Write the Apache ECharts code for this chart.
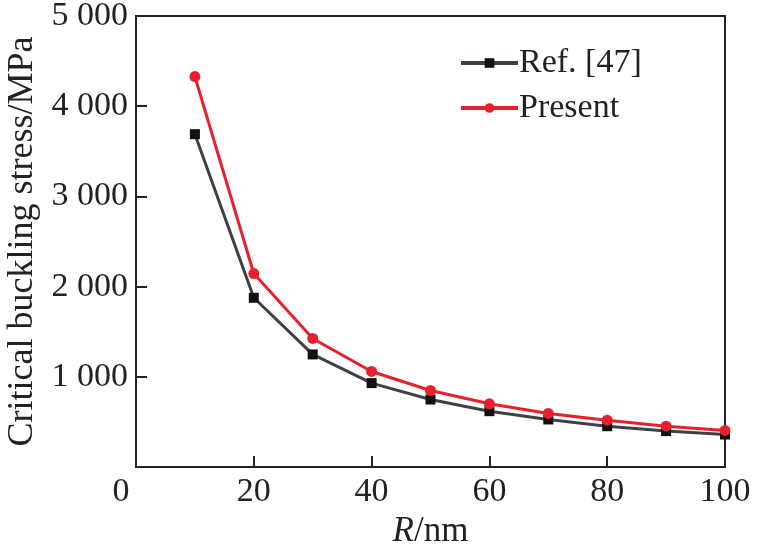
<!DOCTYPE html>
<html>
<head>
<meta charset="utf-8">
<script src="https://cdn.jsdelivr.net/npm/echarts@6/dist/echarts.min.js"></script>
<style>
  html, body { margin: 0; padding: 0; background: #fff; }
  #main { width: 758px; height: 558px; }
</style>
</head>
<body>
<div id="main"></div>
<script>
var radius = [10, 20, 30, 40, 50, 60, 70, 80, 90, 100];
var refStress = [3690, 1876, 1248, 930, 748, 619, 527, 452, 398, 360];
var presentStress = [4328, 2145, 1425, 1059, 848, 701, 594, 519, 452, 405];
var seriesNames = ['Ref. [47]', 'Present'];

var dom = document.getElementById('main');
var myChart = echarts.init(dom);
var font = 'Liberation Serif';

function pairs(xs, ys) {
    var out = [];
    for (var i = 0; i < xs.length; i++) {
        out.push([xs[i], ys[i]]);
    }
    return out;
}

var option = {
    backgroundColor: '#fff',
    animation: false,
    textStyle: { fontFamily: font, color: '#222' },
    grid: {
        left: 136, right: 33, top: 16, bottom: 91,
        outerBoundsMode: 'none',
        containLabel: false,
        show: true, borderColor: '#222', borderWidth: 2,
        backgroundColor: 'transparent'
    },
    legend: {
        data: seriesNames,
        orient: 'vertical',
        left: 454, top: 41,
        itemWidth: 57, itemHeight: 12, itemGap: 11,
        lineStyle: { width: 4 },
        textStyle: { fontFamily: font, fontSize: 34, color: '#222', padding: [0, 0, 0, -4] }
    },
    xAxis: {
        type: 'value',
        min: 0, max: 100, interval: 20,
        name: '{i|R}/nm',
        nameLocation: 'middle',
        nameGap: 45,
        nameTextStyle: {
            fontFamily: font, fontSize: 35, color: '#222',
            rich: { i: { fontFamily: font, fontStyle: 'italic', fontSize: 35, color: '#222' } }
        },
        axisLine: { lineStyle: { color: '#222', width: 2 } },
        axisTick: { inside: true, length: 11, lineStyle: { color: '#222', width: 2 } },
        splitLine: { show: false },
        axisLabel: {
            margin: 8, fontSize: 34, color: '#222', fontFamily: font,
            formatter: function (v) { return v === 0 ? '{z|0}' : String(v); },
            rich: { z: { fontSize: 34, fontFamily: font, color: '#222', padding: [0, 30, 0, 0] } }
        }
    },
    yAxis: {
        type: 'value',
        min: 0, max: 5000, interval: 1000,
        name: 'Critical buckling stress/MPa',
        nameLocation: 'middle',
        nameGap: 75,
        nameTextStyle: { fontFamily: font, fontSize: 36, color: '#222' },
        axisLine: { lineStyle: { color: '#222', width: 2 } },
        axisTick: { inside: true, length: 11, lineStyle: { color: '#222', width: 2 } },
        splitLine: { show: false },
        axisLabel: {
            margin: 8, fontSize: 34, color: '#222', fontFamily: font,
            formatter: function (v) {
                if (v === 0) return '';
                var s = String(v);
                return s.slice(0, s.length - 3) + ' ' + s.slice(s.length - 3);
            }
        }
    },
    series: [
        {
            name: seriesNames[0],
            type: 'line',
            data: pairs(radius, refStress),
            symbol: 'rect',
            symbolSize: 10,
            itemStyle: { color: '#111' },
            lineStyle: { color: '#3d4045', width: 3 },
            z: 2
        },
        {
            name: seriesNames[1],
            type: 'line',
            data: pairs(radius, presentStress),
            symbol: 'circle',
            symbolSize: 11,
            itemStyle: { color: '#e8202d' },
            lineStyle: { color: '#e8202d', width: 3 },
            z: 3
        }
    ]
};

myChart.setOption(option);
</script>
</body>
</html>
